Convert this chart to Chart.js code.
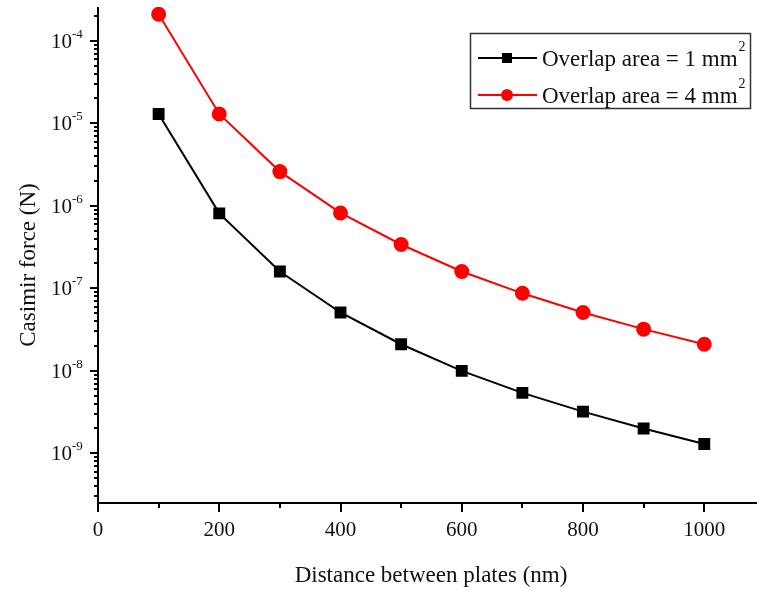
<!DOCTYPE html>
<html lang="en">
<head>
    <meta charset="UTF-8">
    <title>Casimir force vs plate distance</title>
    <script src="https://cdn.jsdelivr.net/npm/chart.js"></script>
    <style>
        html, body { margin: 0; padding: 0; background: #fff; }
        .chart-container { width: 757px; height: 590px; }
    </style>
</head>
<body>
    <div class="chart-container">
        <canvas id="casimirChart" width="757" height="590"></canvas>
    </div>

    <script>
        // Plate distance in nm
        const distances = [100, 200, 300, 400, 500, 600, 700, 800, 900, 1000];
        // Casimir force (N) for the two overlap areas
        const force1mm2 = [1.3e-5, 8.1e-7, 1.6e-7, 5.1e-8, 2.1e-8, 1.0e-8, 5.4e-9, 3.2e-9, 2.0e-9, 1.3e-9];
        const force4mm2 = [2.1e-4, 1.3e-5, 2.6e-6, 8.2e-7, 3.4e-7, 1.6e-7, 8.7e-8, 5.1e-8, 3.2e-8, 2.1e-8];
        const seriesNames = ['Overlap area = 1 mm', 'Overlap area = 4 mm'];
        // Axis ticks
        const xMajorTicks = [0, 200, 400, 600, 800, 1000];
        const xMinorTicks = [100, 300, 500, 700, 900];
        const yDecades = [-9, -8, -7, -6, -5, -4];

        const FONT = '"Liberation Serif", "DejaVu Serif", serif';

        // Draws ticks, labels, titles and the boxed legend
        const axisDecor = {
            id: 'axisDecor',
            afterDraw(chart) {
                const ctx = chart.ctx;
                const xs = chart.scales.x, ys = chart.scales.y;
                const area = chart.chartArea;
                ctx.save();
                ctx.strokeStyle = '#000';
                ctx.fillStyle = '#111';
                ctx.lineWidth = 2;

                // x ticks
                xMajorTicks.concat(xMinorTicks).forEach(v => {
                    const px = Math.round(xs.getPixelForValue(v));
                    const len = xMajorTicks.includes(v) ? 9 : 5;
                    ctx.beginPath();
                    ctx.moveTo(px, area.bottom);
                    ctx.lineTo(px, area.bottom + len);
                    ctx.stroke();
                });
                ctx.font = '21px ' + FONT;
                ctx.textAlign = 'center';
                ctx.textBaseline = 'middle';
                xMajorTicks.forEach(v => {
                    ctx.fillText(String(v), xs.getPixelForValue(v), area.bottom + 27);
                });

                // y ticks: decades long, the rest short
                for (let e = -10; e <= -3; e++) {
                    for (let m = 1; m <= 9; m++) {
                        const v = m * Math.pow(10, e);
                        if (v < ys.min || v > ys.max) continue;
                        const py = Math.round(ys.getPixelForValue(v));
                        const len = m === 1 ? 8 : 4;
                        ctx.beginPath();
                        ctx.moveTo(area.left, py);
                        ctx.lineTo(area.left - len, py);
                        ctx.stroke();
                    }
                }
                yDecades.forEach(e => {
                    const py = ys.getPixelForValue(Math.pow(10, e));
                    ctx.textAlign = 'left';
                    ctx.textBaseline = 'alphabetic';
                    ctx.font = '21px ' + FONT;
                    ctx.fillText('10', 51, py + 7);
                    ctx.font = '13px ' + FONT;
                    ctx.fillText(String(e), 72, py - 3);
                });

                // axis titles
                ctx.font = '23px ' + FONT;
                ctx.textAlign = 'center';
                ctx.textBaseline = 'middle';
                ctx.fillText('Distance between plates (nm)', 431, 576);
                ctx.save();
                ctx.translate(29, 265);
                ctx.rotate(-Math.PI / 2);
                ctx.fillText('Casimir force (N)', 0, 0);
                ctx.restore();

                // legend
                ctx.lineWidth = 1.5;
                ctx.strokeStyle = '#333';
                ctx.strokeRect(470.5, 33.5, 280, 75);
                chart.data.datasets.forEach((ds, i) => {
                    const cy = 58 + i * 37;
                    ctx.strokeStyle = ds.borderColor;
                    ctx.lineWidth = 2;
                    ctx.beginPath();
                    ctx.moveTo(478, cy);
                    ctx.lineTo(537, cy);
                    ctx.stroke();
                    ctx.fillStyle = ds.backgroundColor;
                    if (ds.pointStyle === 'rect') {
                        ctx.fillRect(502, cy - 5, 10, 10);
                    } else {
                        ctx.beginPath();
                        ctx.arc(507, cy, 6, 0, Math.PI * 2);
                        ctx.fill();
                    }
                    ctx.fillStyle = '#111';
                    ctx.textAlign = 'left';
                    ctx.textBaseline = 'alphabetic';
                    ctx.font = '23px ' + FONT;
                    ctx.fillText(seriesNames[i], 542, cy + 8);
                    const w = ctx.measureText(seriesNames[i]).width;
                    ctx.font = '14px ' + FONT;
                    ctx.fillText('2', 542 + w + 1, cy - 7);
                });
                ctx.restore();
            }
        };

        const ctx = document.getElementById('casimirChart').getContext('2d');
        new Chart(ctx, {
            type: 'line',
            data: {
                datasets: [
                    {
                        label: seriesNames[0],
                        data: distances.map((d, i) => ({ x: d, y: force1mm2[i] })),
                        borderColor: '#000',
                        backgroundColor: '#000',
                        borderWidth: 2,
                        pointStyle: 'rect',
                        pointRadius: 7,
                        pointHoverRadius: 7,
                        tension: 0
                    },
                    {
                        label: seriesNames[1],
                        data: distances.map((d, i) => ({ x: d, y: force4mm2[i] })),
                        borderColor: '#ff0000',
                        backgroundColor: '#ff0000',
                        borderWidth: 2,
                        pointStyle: 'circle',
                        pointRadius: 6.5,
                        pointHoverRadius: 6.5,
                        tension: 0
                    }
                ]
            },
            options: {
                responsive: false,
                animation: false,
                clip: false,
                layout: { autoPadding: false, padding: { left: 98, top: 8, right: 0, bottom: 87 } },
                plugins: { legend: { display: false }, tooltip: { enabled: false } },
                scales: {
                    x: {
                        type: 'linear',
                        min: 0,
                        max: 1087,
                        grid: { display: false, drawTicks: false },
                        border: { display: true, color: '#000', width: 2 },
                        ticks: { display: false }
                    },
                    y: {
                        type: 'logarithmic',
                        min: 2.5e-10,
                        max: 2.5e-4,
                        grid: { display: false, drawTicks: false },
                        border: { display: true, color: '#000', width: 2 },
                        ticks: { display: false }
                    }
                }
            },
            plugins: [axisDecor]
        });
    </script>
</body>
</html>
